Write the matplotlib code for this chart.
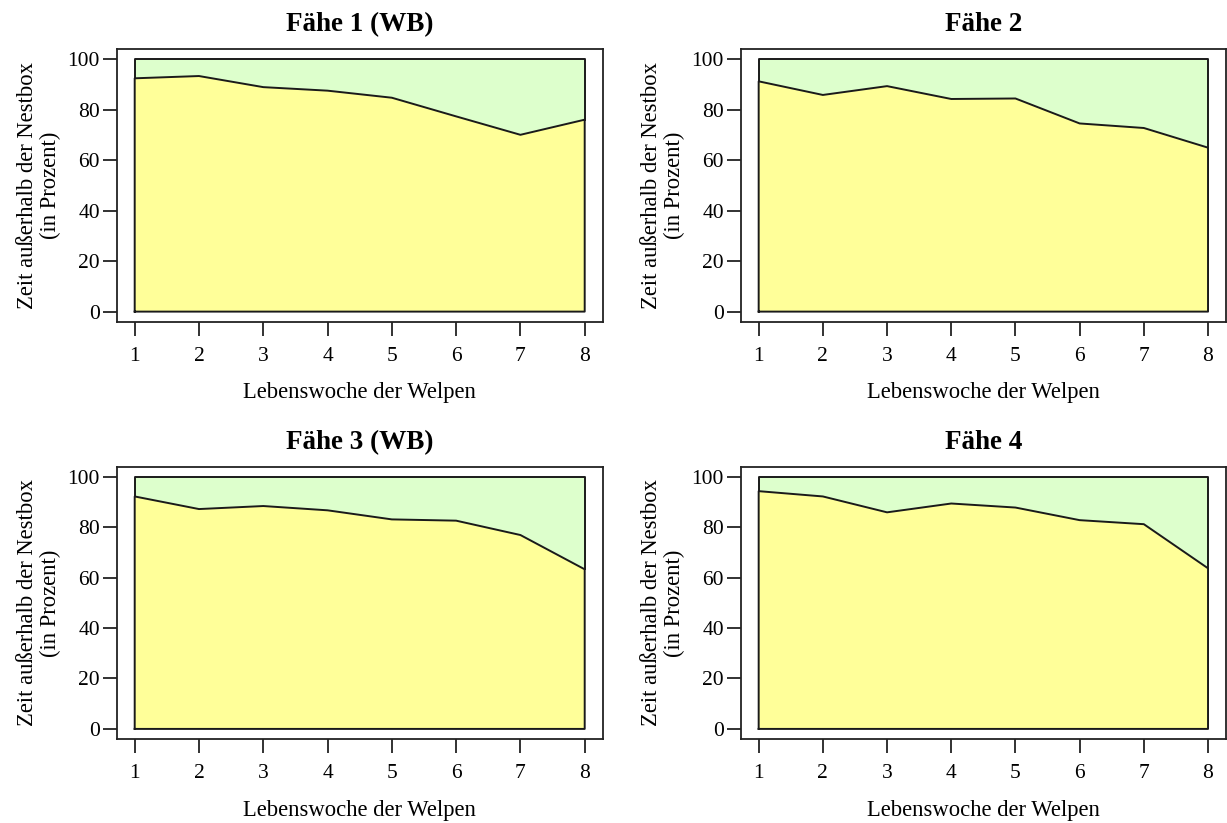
import matplotlib
matplotlib.use("Agg")
import matplotlib.pyplot as plt
import numpy as np

plt.rcParams['font.family'] = ['Liberation Serif', 'DejaVu Serif']

# Lebenswoche 1..8, Anteil Zeit ausserhalb der Nestbox (%)
wochen = [1, 2, 3, 4, 5, 6, 7, 8]
faehe1 = [92.5, 93.4, 89.0, 87.6, 84.8, 77.4, 70.1, 76.1]
faehe2 = [91.3, 85.9, 89.4, 84.3, 84.5, 74.6, 72.8, 65.0]
faehe3 = [92.2, 87.2, 88.4, 86.7, 83.1, 82.6, 76.9, 63.3]
faehe4 = [94.3, 92.2, 85.9, 89.4, 87.8, 82.8, 81.2, 63.7]
titel = ["Fähe 1 (WB)", "Fähe 2", "Fähe 3 (WB)", "Fähe 4"]
yticks = [0, 20, 40, 60, 80, 100]

gelb = "#FFFF99"
gruen = "#DDFFCC"

W, H = 1227, 823
fig = plt.figure(figsize=(W / 100, H / 100), dpi=100)

# box positions in pixels: left, top, right, bottom
boxes = [(116.7, 49.3, 602.7, 321.7),
         (740.7, 49.3, 1226.0, 321.7),
         (116.7, 466.7, 602.7, 739.0),
         (740.7, 466.7, 1226.0, 739.0)]

daten = [faehe1, faehe2, faehe3, faehe4]

for (l, t, r, b), werte, tt in zip(boxes, daten, titel):
    ax = fig.add_axes([l / W, 1 - b / H, (r - l) / W, (b - t) / H])
    x = np.array(wochen)
    y = np.array(werte)
    ax.fill_between(x, 0, y, facecolor=gelb, edgecolor="none")
    ax.fill_between(x, y, 100, facecolor=gruen, edgecolor="none")
    # polygon outlines
    ax.plot(np.r_[x[0], x, x[-1], x[0]], np.r_[0, y, 0, 0], color="#1a1a1a", lw=1.4)
    ax.plot(np.r_[x[0], x[0], x[-1], x[-1]], np.r_[y[0], 100, 100, y[-1]], color="#1a1a1a", lw=1.4)

    ax.set_xlim(1 - 0.28, 8 + 0.28)
    ax.set_ylim(-4, 104)
    ax.set_xticks(wochen)
    ax.set_yticks(yticks)
    ax.tick_params(direction="out", length=10, width=1.3, labelsize=15.5, color="#222222")
    ax.tick_params(axis="x", pad=8)
    ax.tick_params(axis="y", pad=2)
    for s in ax.spines.values():
        s.set_linewidth(1.3)
        s.set_color("#222222")
    ax.set_title(tt, fontsize=19.5, fontweight="bold", pad=13)
    ax.set_xlabel("Lebenswoche der Welpen", fontsize=16.3, labelpad=12)
    ax.set_ylabel("Zeit außerhalb der Nestbox\n(in Prozent)", fontsize=16.3, labelpad=5, linespacing=1.1)

fig.savefig("out.png", dpi=100)
